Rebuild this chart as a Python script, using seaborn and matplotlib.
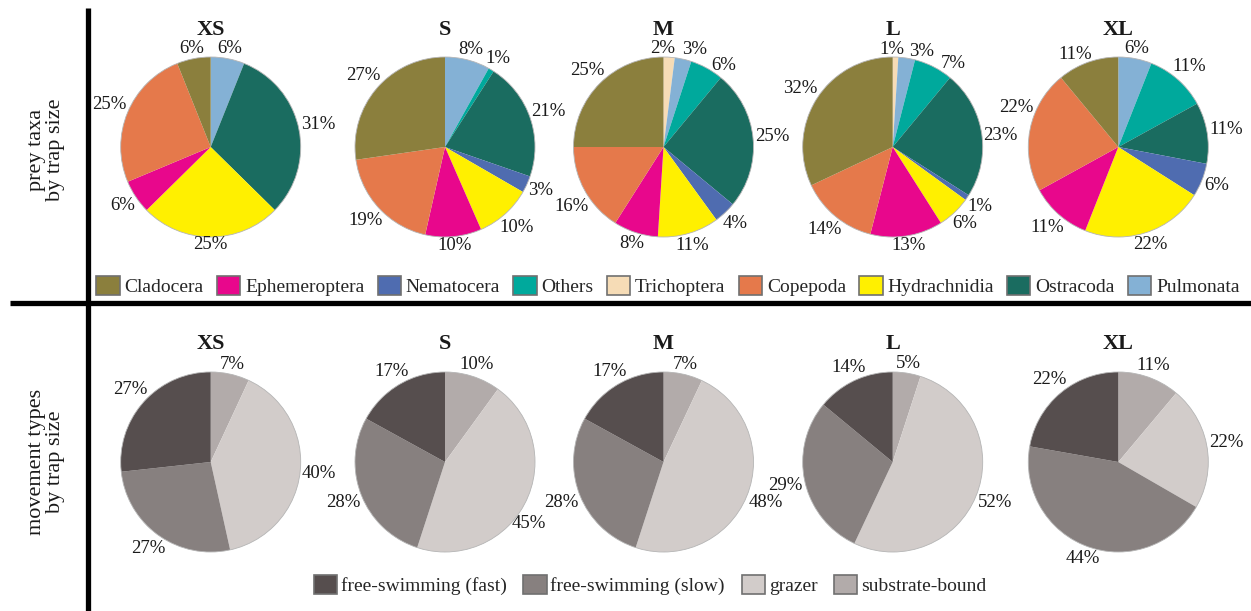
import numpy as np
import matplotlib
matplotlib.use("Agg")
import matplotlib.pyplot as plt
import matplotlib.patches as mpatches
import seaborn as sns

# ---------------- data ----------------
sizes = ["XS", "S", "M", "L", "XL"]

# legend order of prey taxa
taxa_legend = ["Cladocera", "Ephemeroptera", "Nematocera", "Others", "Trichoptera",
               "Copepoda", "Hydrachnidia", "Ostracoda", "Pulmonata"]
# clockwise order in the pies (from 12 o'clock)
taxa_pie = ["Trichoptera", "Pulmonata", "Others", "Ostracoda", "Nematocera",
            "Hydrachnidia", "Ephemeroptera", "Copepoda", "Cladocera"]
taxa_colors = {
    "Cladocera": "#8b7f3d",
    "Ephemeroptera": "#e8078c",
    "Nematocera": "#4f6cb0",
    "Others": "#00a99c",
    "Trichoptera": "#f6dcb6",
    "Copepoda": "#e5794b",
    "Hydrachnidia": "#fff000",
    "Ostracoda": "#1a6c60",
    "Pulmonata": "#84b1d5",
}
prey_XS = [0, 6, 0, 31, 0, 25, 6, 25, 6]
prey_S = [0, 8, 1, 21, 3, 10, 10, 19, 27]
prey_M = [2, 3, 6, 25, 4, 11, 8, 16, 25]
prey_L = [1, 3, 7, 23, 1, 6, 13, 14, 32]
prey_XL = [0, 6, 11, 11, 6, 22, 11, 22, 11]
prey_values = [prey_XS, prey_S, prey_M, prey_L, prey_XL]

move_legend = ["free-swimming (fast)", "free-swimming (slow)", "grazer", "substrate-bound"]
move_pie = ["substrate-bound", "grazer", "free-swimming (slow)", "free-swimming (fast)"]
move_colors = {
    "free-swimming (fast)": "#564e4e",
    "free-swimming (slow)": "#87807f",
    "grazer": "#d2ccca",
    "substrate-bound": "#b2abaa",
}
move_XS = [7, 40, 27, 27]
move_S = [10, 45, 28, 17]
move_M = [7, 48, 28, 17]
move_L = [5, 52, 29, 14]
move_XL = [11, 22, 44, 22]
move_values = [move_XS, move_S, move_M, move_L, move_XL]

row_labels = ["prey taxa\nby trap size", "movement types\nby trap size"]

# small label nudges (pixels, +x right, +y down) to keep crowded labels apart
label_nudge = {
    ("M", "Trichoptera"): (-7, 0),
    ("M", "Pulmonata"): (9, 0),
    ("M", "Others"): (11, 9),
    ("M", "Copepoda"): (4, 7),
    ("L", "Trichoptera"): (-4, 0),
    ("L", "Pulmonata"): (13, 3),
    ("L", "Others"): (14, 8),
    ("L", "Ostracoda"): (0, 6),
    ("XL", "Copepoda"): (6, -19),
    ("XL", "Cladocera"): (-8, 4),
    ("S", "grazer"): (-14, 12),
}

# ---------------- style ----------------
sns.set_theme(style="white")
plt.rcParams["font.family"] = ["Liberation Serif", "DejaVu Serif"]

W, H = 1251, 611
fig = plt.figure(figsize=(W / 100, H / 100), dpi=100)
fig.patch.set_facecolor("white")
renderer = fig.canvas.get_renderer()

centers_x = [210.7, 445, 663.5, 892.7, 1118.3]
R = 90.0
BOX = 2.5 * R
LABEL_FS = 13.5
TEXT_COLOR = "#1a1a1a"


def pie_axes(cx, cy):
    return fig.add_axes([(cx - BOX / 2) / W, 1 - (cy + BOX / 2) / H, BOX / W, BOX / H])


def draw_pie(ax, size_name, names, vals, cmap):
    pairs = [(n, v) for n, v in zip(names, vals) if v > 0]
    v = [p[1] for p in pairs]
    cols = [cmap[p[0]] for p in pairs]
    wedges, _ = ax.pie(v, colors=cols, startangle=90, counterclock=False, normalize=True,
                       wedgeprops=dict(linewidth=0, antialiased=True))
    ax.add_patch(mpatches.Circle((0, 0), 1, fill=False, edgecolor="#b5b5b5", linewidth=0.6))
    ax.set_xlim(-1.25, 1.25)
    ax.set_ylim(-1.25, 1.25)
    ax.set_aspect("equal")
    ax.axis("off")
    # labels: centred along the mid-angle, just clear of the rim
    for (name, val), w in zip(pairs, wedges):
        mid = np.deg2rad((w.theta1 + w.theta2) / 2)
        ux, uy = np.cos(mid), np.sin(mid)
        t = ax.text(0, 0, f"{val}%", ha="center", va="center",
                    fontsize=LABEL_FS, color=TEXT_COLOR)
        bb = t.get_window_extent(renderer=renderer)
        hw, hh = bb.width / 2, bb.height / 2 * 0.72
        d = R + 1.5 + abs(ux) * hw + abs(uy) * hh
        nx, ny = label_nudge.get((size_name, name), (0, 0))
        t.set_position(((d * ux + nx) / R, (d * uy - ny) / R))


for i, s in enumerate(sizes):
    ax = pie_axes(centers_x[i], 147)
    draw_pie(ax, s, taxa_pie, prey_values[i], taxa_colors)
    fig.text(centers_x[i] / W, 1 - 35 / H, s, ha="center", va="baseline",
             fontsize=16, fontweight="bold", color=TEXT_COLOR)

    ax2 = pie_axes(centers_x[i], 462)
    draw_pie(ax2, s, move_pie, move_values[i], move_colors)
    fig.text(centers_x[i] / W, 1 - 349 / H, s, ha="center", va="baseline",
             fontsize=16, fontweight="bold", color=TEXT_COLOR)

# legends
taxa_handles = [mpatches.Patch(facecolor=taxa_colors[t], edgecolor="#707070", linewidth=1.2)
                for t in taxa_legend]
fig.legend(taxa_handles, taxa_legend, loc="center", bbox_to_anchor=(668 / W, 1 - 286 / H),
           ncol=9, frameon=False, handlelength=1.2, handleheight=1.15, handletextpad=0.25,
           columnspacing=0.68, fontsize=14, borderaxespad=0, borderpad=0)

move_handles = [mpatches.Patch(facecolor=move_colors[m], edgecolor="#707070", linewidth=1.2)
                for m in move_legend]
fig.legend(move_handles, move_legend, loc="center", bbox_to_anchor=(650 / W, 1 - 585 / H),
           ncol=4, frameon=False, handlelength=1.2, handleheight=1.15, handletextpad=0.2,
           columnspacing=0.85, fontsize=14, borderaxespad=0, borderpad=0)

# divider lines
fig.add_artist(plt.Line2D([88 / W, 88 / W], [1 - 8 / H, 0], transform=fig.transFigure,
                          color="black", linewidth=3.8, solid_capstyle="butt"))
fig.add_artist(plt.Line2D([10 / W, 1], [1 - 303 / H, 1 - 303 / H], transform=fig.transFigure,
                          color="black", linewidth=3.8, solid_capstyle="butt"))

# row labels
fig.text(46 / W, 1 - 150 / H, row_labels[0], rotation=90, ha="center", va="center",
         fontsize=16, linespacing=1.05, color=TEXT_COLOR)
fig.text(46 / W, 1 - 462 / H, row_labels[1], rotation=90, ha="center", va="center",
         fontsize=16, linespacing=1.05, color=TEXT_COLOR)

fig.savefig("out.png", dpi=100, facecolor="white")
